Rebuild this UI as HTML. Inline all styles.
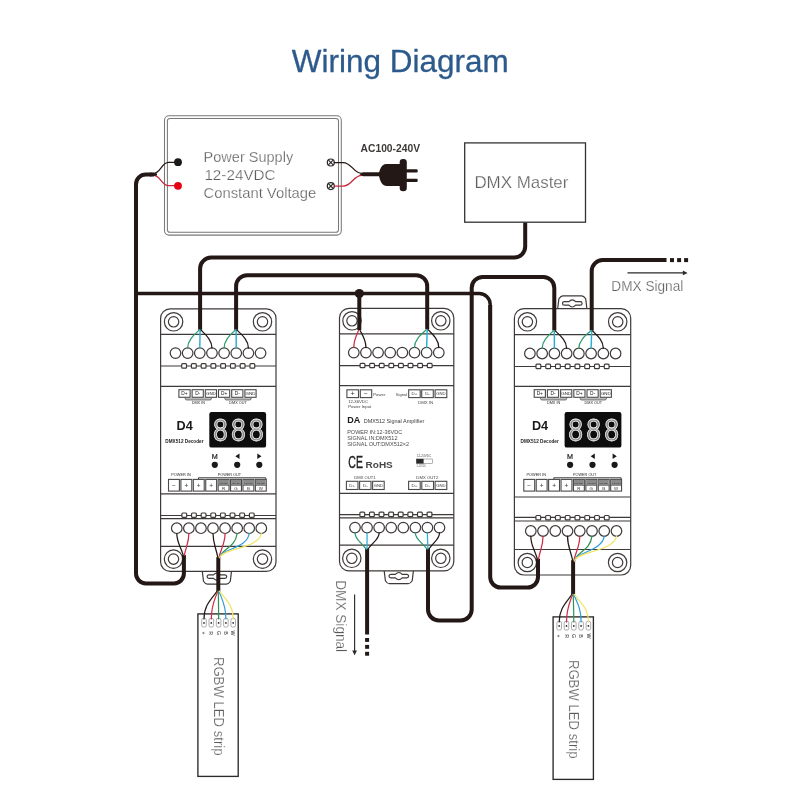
<!DOCTYPE html>
<html><head><meta charset="utf-8"><title>Wiring Diagram</title>
<style>
html,body{margin:0;padding:0;background:#fff;width:800px;height:800px;overflow:hidden;}
svg{display:block;font-family:"Liberation Sans", sans-serif;filter:blur(0.3px);}
.o{fill:none;stroke:#3e3a39;stroke-width:1.2;}
.ow{fill:#fff;stroke:#3e3a39;stroke-width:1.2;}
.lt{stroke:#fff;stroke-width:0.25;}
</style></head><body>
<svg width="800" height="800" viewBox="0 0 800 800">
<rect width="800" height="800" fill="#fff"/>
<text x="400.2" y="71.7" font-size="31.2" fill="#2c5a8c" font-weight="normal" text-anchor="middle" textLength="217" lengthAdjust="spacingAndGlyphs" stroke="#2c5a8c" stroke-width="0.3">Wiring Diagram</text>
<rect x="164.5" y="115.7" width="176.8" height="119.4" rx="4.5" fill="#fff" stroke="#7a7878" stroke-width="1.05"/>
<rect x="167.4" y="118.5" width="171.1" height="113.8" rx="2.6" fill="#fff" stroke="#7a7878" stroke-width="1.05"/>
<text x="203.6" y="161.7" font-size="14.4" fill="#5e5c5c" font-weight="normal" text-anchor="start" textLength="89.6" lengthAdjust="spacingAndGlyphs" class="lt">Power Supply</text>
<text x="204.4" y="180.0" font-size="14.4" fill="#5e5c5c" font-weight="normal" text-anchor="start" textLength="71.2" lengthAdjust="spacingAndGlyphs" class="lt">12-24VDC</text>
<text x="203.6" y="198.3" font-size="14.4" fill="#5e5c5c" font-weight="normal" text-anchor="start" textLength="112.6" lengthAdjust="spacingAndGlyphs" class="lt">Constant Voltage</text>
<rect x="464.7" y="142.9" width="120.8" height="79.3" fill="#fff" stroke="#333" stroke-width="1.3"/>
<text x="474.4" y="188.0" font-size="16.4" fill="#5e5c5c" font-weight="normal" text-anchor="start" textLength="94.0" lengthAdjust="spacingAndGlyphs" class="lt">DMX Master</text>
<path d="M202.3,571.4 L203.5,581.1999999999999 Q205.4,584.1999999999999 207.4,584.1999999999999 H226.4 Q228.4,584.1999999999999 230.3,581.1999999999999 L231.5,571.4" class="ow"/>
<path d="M208.9,574.8000000000001 H213.5 Q216.9,571.2 220.3,574.8000000000001 H224.9 A1.8,1.8 0 0 1 224.9,578.4 H220.3 Q216.9,582.0 213.5,578.4 H208.9 A1.8,1.8 0 0 1 208.9,574.8000000000001 Z" class="ow"/>
<rect x="160.6" y="308.8" width="115.4" height="262.59999999999997" rx="9.5" class="ow"/>
<path d="M160.6,334.4 H276.0" class="o"/>
<path d="M160.6,366.0 H276.0" class="o"/>
<path d="M160.6,386.3 H276.0" class="o"/>
<path d="M160.6,493.9 H276.0" class="o"/>
<path d="M160.6,515.5 H276.0" class="o"/>
<path d="M160.6,518.6 H276.0" class="o"/>
<path d="M160.6,546.3 H276.0" class="o"/>
<circle cx="173.6" cy="321.8" r="9.2" class="o"/><circle cx="173.6" cy="321.8" r="5.2" class="o"/>
<circle cx="262.5" cy="321.8" r="9.2" class="o"/><circle cx="262.5" cy="321.8" r="5.2" class="o"/>
<circle cx="173.5" cy="559.1" r="9.2" class="o"/><circle cx="173.5" cy="559.1" r="5.2" class="o"/>
<circle cx="262.5" cy="559.1" r="9.2" class="o"/><circle cx="262.5" cy="559.1" r="5.2" class="o"/>
<circle cx="175.5" cy="353.1" r="5.3" class="ow"/>
<circle cx="187.65" cy="353.1" r="5.3" class="ow"/>
<circle cx="199.8" cy="353.1" r="5.3" class="ow"/>
<circle cx="211.95" cy="353.1" r="5.3" class="ow"/>
<circle cx="224.1" cy="353.1" r="5.3" class="ow"/>
<circle cx="236.25" cy="353.1" r="5.3" class="ow"/>
<circle cx="248.4" cy="353.1" r="5.3" class="ow"/>
<circle cx="260.55" cy="353.1" r="5.3" class="ow"/>
<rect x="181.7" y="363.7" width="4.8" height="4.4" rx="0.9" class="ow"/>
<rect x="191.45" y="363.7" width="4.8" height="4.4" rx="0.9" class="ow"/>
<rect x="201.2" y="363.7" width="4.8" height="4.4" rx="0.9" class="ow"/>
<rect x="210.95" y="363.7" width="4.8" height="4.4" rx="0.9" class="ow"/>
<rect x="220.7" y="363.7" width="4.8" height="4.4" rx="0.9" class="ow"/>
<rect x="230.45" y="363.7" width="4.8" height="4.4" rx="0.9" class="ow"/>
<rect x="240.2" y="363.7" width="4.8" height="4.4" rx="0.9" class="ow"/>
<rect x="249.95" y="363.7" width="4.8" height="4.4" rx="0.9" class="ow"/>
<rect x="181.9" y="513.0" width="4.8" height="4.4" rx="0.9" class="ow"/>
<rect x="191.54" y="513.0" width="4.8" height="4.4" rx="0.9" class="ow"/>
<rect x="201.18" y="513.0" width="4.8" height="4.4" rx="0.9" class="ow"/>
<rect x="210.82000000000002" y="513.0" width="4.8" height="4.4" rx="0.9" class="ow"/>
<rect x="220.46" y="513.0" width="4.8" height="4.4" rx="0.9" class="ow"/>
<rect x="230.1" y="513.0" width="4.8" height="4.4" rx="0.9" class="ow"/>
<rect x="239.74" y="513.0" width="4.8" height="4.4" rx="0.9" class="ow"/>
<rect x="249.38000000000002" y="513.0" width="4.8" height="4.4" rx="0.9" class="ow"/>
<circle cx="176.8" cy="528.2" r="5.3" class="ow"/>
<circle cx="188.87" cy="528.2" r="5.3" class="ow"/>
<circle cx="200.94" cy="528.2" r="5.3" class="ow"/>
<circle cx="213.01000000000002" cy="528.2" r="5.3" class="ow"/>
<circle cx="225.08" cy="528.2" r="5.3" class="ow"/>
<circle cx="237.15" cy="528.2" r="5.3" class="ow"/>
<circle cx="249.22000000000003" cy="528.2" r="5.3" class="ow"/>
<circle cx="261.29" cy="528.2" r="5.3" class="ow"/>
<rect x="178.9" y="389.7" width="11.2" height="7.6" fill="#fff" stroke="#4a4a4a" stroke-width="1.1"/>
<text x="184.5" y="395.228" font-size="4.8" fill="#222" font-weight="normal" text-anchor="middle">D+</text>
<rect x="192.1" y="389.7" width="11.2" height="7.6" fill="#fff" stroke="#4a4a4a" stroke-width="1.1"/>
<text x="197.7" y="395.228" font-size="4.8" fill="#222" font-weight="normal" text-anchor="middle">D-</text>
<rect x="205.3" y="389.7" width="11.2" height="7.6" fill="#fff" stroke="#4a4a4a" stroke-width="1.1"/>
<text x="210.9" y="395.084" font-size="4.4" fill="#222" font-weight="normal" text-anchor="middle">GND</text>
<rect x="218.5" y="389.7" width="11.2" height="7.6" fill="#fff" stroke="#4a4a4a" stroke-width="1.1"/>
<text x="224.1" y="395.228" font-size="4.8" fill="#222" font-weight="normal" text-anchor="middle">D+</text>
<rect x="231.7" y="389.7" width="11.2" height="7.6" fill="#fff" stroke="#4a4a4a" stroke-width="1.1"/>
<text x="237.29999999999998" y="395.228" font-size="4.8" fill="#222" font-weight="normal" text-anchor="middle">D-</text>
<rect x="244.9" y="389.7" width="11.2" height="7.6" fill="#fff" stroke="#4a4a4a" stroke-width="1.1"/>
<text x="250.5" y="395.084" font-size="4.4" fill="#222" font-weight="normal" text-anchor="middle">GND</text>
<path d="M184.8,397.9 L186.0,400.0 H210.60000000000002 L211.8,397.9" fill="#bbb" stroke="#4a4a4a" stroke-width="0.7"/>
<text x="198.3" y="404.3" font-size="3.8" fill="#2a2a2a" font-weight="normal" text-anchor="middle">DMX IN</text>
<path d="M224.5,397.9 L225.7,400.0 H250.3 L251.5,397.9" fill="#bbb" stroke="#4a4a4a" stroke-width="0.7"/>
<text x="238.0" y="404.3" font-size="3.8" fill="#2a2a2a" font-weight="normal" text-anchor="middle">DMX OUT</text>
<text x="176.6" y="430.1" font-size="12.8" fill="#1a1a1a" font-weight="bold" text-anchor="start" textLength="16.2" lengthAdjust="spacingAndGlyphs">D4</text>
<text x="165.3" y="442.9" font-size="4.7" fill="#222" font-weight="bold" text-anchor="start" textLength="38.2" lengthAdjust="spacingAndGlyphs">DMX512 Decoder</text>
<rect x="209.3" y="412.1" width="56.8" height="35.5" rx="2.2" fill="#0d0d0d"/>
<text transform="translate(213.0,441.2) scale(0.83,1)" font-size="32" letter-spacing="3.9" fill="#8a8a8a" stroke="#fff" stroke-width="0.8">888</text>
<text x="214.8" y="458.8" font-size="7.2" fill="#1a1a1a" font-weight="normal" text-anchor="middle" stroke="#1a1a1a" stroke-width="0.2">M</text>
<path d="M239.5,453.6 V459.0 L235.3,456.3 Z" fill="#1a1a1a"/>
<path d="M257.3,453.6 V459.0 L261.5,456.3 Z" fill="#1a1a1a"/>
<circle cx="214.8" cy="464.8" r="3.1" fill="#1a1a1a"/>
<circle cx="237.2" cy="464.8" r="3.1" fill="#1a1a1a"/>
<circle cx="259.3" cy="464.8" r="3.1" fill="#1a1a1a"/>
<text x="181.0" y="475.8" font-size="3.8" fill="#2a2a2a" font-weight="normal" text-anchor="middle" textLength="19.5" lengthAdjust="spacingAndGlyphs">POWER IN</text>
<text x="229.4" y="475.8" font-size="3.8" fill="#2a2a2a" font-weight="normal" text-anchor="middle" textLength="23.4" lengthAdjust="spacingAndGlyphs">POWER OUT</text>
<path d="M198.5,479.2 V477.8 H265.8 V479.2" fill="none" stroke="#3a3a3a" stroke-width="1"/>
<rect x="168.5" y="479.4" width="10.9" height="11.7" fill="#fff" stroke="#4a4a4a" stroke-width="1.1"/>
<text x="173.95" y="487.59" font-size="6.5" fill="#333" font-weight="normal" text-anchor="middle">−</text>
<rect x="180.91" y="479.4" width="10.9" height="11.7" fill="#fff" stroke="#4a4a4a" stroke-width="1.1"/>
<text x="186.35999999999999" y="487.59" font-size="6.5" fill="#333" font-weight="normal" text-anchor="middle">+</text>
<rect x="193.32" y="479.4" width="10.9" height="11.7" fill="#fff" stroke="#4a4a4a" stroke-width="1.1"/>
<text x="198.76999999999998" y="487.59" font-size="6.5" fill="#333" font-weight="normal" text-anchor="middle">+</text>
<rect x="205.73000000000002" y="479.4" width="10.9" height="11.7" fill="#fff" stroke="#4a4a4a" stroke-width="1.1"/>
<text x="211.18" y="487.59" font-size="6.5" fill="#333" font-weight="normal" text-anchor="middle">+</text>
<rect x="218.14" y="479.4" width="10.9" height="11.7" fill="#fff" stroke="#4a4a4a" stroke-width="1.1"/>
<rect x="218.64" y="479.9" width="9.9" height="5.0" fill="#8a8a8a"/>
<path d="M218.14,485.3 H229.04" stroke="#4a4a4a" stroke-width="0.8"/>
<text x="223.58999999999997" y="484.0" font-size="2.3" fill="#222" font-weight="normal" text-anchor="middle">4.5A/CH</text>
<text x="223.58999999999997" y="490.3" font-size="4.4" fill="#333" font-weight="normal" text-anchor="middle">R</text>
<rect x="230.55" y="479.4" width="10.9" height="11.7" fill="#fff" stroke="#4a4a4a" stroke-width="1.1"/>
<rect x="231.05" y="479.9" width="9.9" height="5.0" fill="#8a8a8a"/>
<path d="M230.55,485.3 H241.45000000000002" stroke="#4a4a4a" stroke-width="0.8"/>
<text x="236.0" y="484.0" font-size="2.3" fill="#222" font-weight="normal" text-anchor="middle">4.5A/CH</text>
<text x="236.0" y="490.3" font-size="4.4" fill="#333" font-weight="normal" text-anchor="middle">G</text>
<rect x="242.96" y="479.4" width="10.9" height="11.7" fill="#fff" stroke="#4a4a4a" stroke-width="1.1"/>
<rect x="243.46" y="479.9" width="9.9" height="5.0" fill="#8a8a8a"/>
<path d="M242.96,485.3 H253.86" stroke="#4a4a4a" stroke-width="0.8"/>
<text x="248.41" y="484.0" font-size="2.3" fill="#222" font-weight="normal" text-anchor="middle">4.5A/CH</text>
<text x="248.41" y="490.3" font-size="4.4" fill="#333" font-weight="normal" text-anchor="middle">B</text>
<rect x="255.37" y="479.4" width="10.9" height="11.7" fill="#fff" stroke="#4a4a4a" stroke-width="1.1"/>
<rect x="255.87" y="479.9" width="9.9" height="5.0" fill="#8a8a8a"/>
<path d="M255.37,485.3 H266.27" stroke="#4a4a4a" stroke-width="0.8"/>
<text x="260.82" y="484.0" font-size="2.3" fill="#222" font-weight="normal" text-anchor="middle">4.5A/CH</text>
<text x="260.82" y="490.3" font-size="4.4" fill="#333" font-weight="normal" text-anchor="middle">W</text>
<path d="M557.6999999999999,308.6 L558.9,298.8 Q560.8,295.8 562.8,295.8 H581.8 Q583.8,295.8 585.6999999999999,298.8 L586.9,308.6" class="ow"/>
<path d="M564.3,301.6 H568.9 Q572.3,298.00000000000006 575.6999999999999,301.6 H580.3 A1.8,1.8 0 0 1 580.3,305.20000000000005 H575.6999999999999 Q572.3,308.8 568.9,305.20000000000005 H564.3 A1.8,1.8 0 0 1 564.3,301.6 Z" class="ow"/>
<rect x="514.4" y="308.6" width="116.30000000000007" height="266.4" rx="9.5" class="ow"/>
<path d="M514.4,334.7 H630.7" class="o"/>
<path d="M514.4,366.5 H630.7" class="o"/>
<path d="M514.4,386.3 H630.7" class="o"/>
<path d="M514.4,497.0 H630.7" class="o"/>
<path d="M514.4,517.4 H630.7" class="o"/>
<path d="M514.4,521.0 H630.7" class="o"/>
<path d="M514.4,549.5 H630.7" class="o"/>
<circle cx="527.4" cy="321.8" r="9.2" class="o"/><circle cx="527.4" cy="321.8" r="5.2" class="o"/>
<circle cx="617.7" cy="321.8" r="9.2" class="o"/><circle cx="617.7" cy="321.8" r="5.2" class="o"/>
<circle cx="527.3" cy="562.5" r="9.2" class="o"/><circle cx="527.3" cy="562.5" r="5.2" class="o"/>
<circle cx="617.6" cy="562.5" r="9.2" class="o"/><circle cx="617.6" cy="562.5" r="5.2" class="o"/>
<circle cx="529.9" cy="353.5" r="5.3" class="ow"/>
<circle cx="542.14" cy="353.5" r="5.3" class="ow"/>
<circle cx="554.38" cy="353.5" r="5.3" class="ow"/>
<circle cx="566.62" cy="353.5" r="5.3" class="ow"/>
<circle cx="578.86" cy="353.5" r="5.3" class="ow"/>
<circle cx="591.1" cy="353.5" r="5.3" class="ow"/>
<circle cx="603.3399999999999" cy="353.5" r="5.3" class="ow"/>
<circle cx="615.5799999999999" cy="353.5" r="5.3" class="ow"/>
<rect x="536.0" y="364.2" width="4.8" height="4.4" rx="0.9" class="ow"/>
<rect x="545.75" y="364.2" width="4.8" height="4.4" rx="0.9" class="ow"/>
<rect x="555.5" y="364.2" width="4.8" height="4.4" rx="0.9" class="ow"/>
<rect x="565.25" y="364.2" width="4.8" height="4.4" rx="0.9" class="ow"/>
<rect x="575.0" y="364.2" width="4.8" height="4.4" rx="0.9" class="ow"/>
<rect x="584.75" y="364.2" width="4.8" height="4.4" rx="0.9" class="ow"/>
<rect x="594.5" y="364.2" width="4.8" height="4.4" rx="0.9" class="ow"/>
<rect x="604.25" y="364.2" width="4.8" height="4.4" rx="0.9" class="ow"/>
<rect x="535.9" y="515.5" width="4.8" height="4.4" rx="0.9" class="ow"/>
<rect x="545.68" y="515.5" width="4.8" height="4.4" rx="0.9" class="ow"/>
<rect x="555.4599999999999" y="515.5" width="4.8" height="4.4" rx="0.9" class="ow"/>
<rect x="565.24" y="515.5" width="4.8" height="4.4" rx="0.9" class="ow"/>
<rect x="575.02" y="515.5" width="4.8" height="4.4" rx="0.9" class="ow"/>
<rect x="584.8" y="515.5" width="4.8" height="4.4" rx="0.9" class="ow"/>
<rect x="594.5799999999999" y="515.5" width="4.8" height="4.4" rx="0.9" class="ow"/>
<rect x="604.36" y="515.5" width="4.8" height="4.4" rx="0.9" class="ow"/>
<circle cx="530.8" cy="531.0" r="5.3" class="ow"/>
<circle cx="543.04" cy="531.0" r="5.3" class="ow"/>
<circle cx="555.28" cy="531.0" r="5.3" class="ow"/>
<circle cx="567.52" cy="531.0" r="5.3" class="ow"/>
<circle cx="579.76" cy="531.0" r="5.3" class="ow"/>
<circle cx="592.0" cy="531.0" r="5.3" class="ow"/>
<circle cx="604.24" cy="531.0" r="5.3" class="ow"/>
<circle cx="616.48" cy="531.0" r="5.3" class="ow"/>
<rect x="534.2" y="389.7" width="11.2" height="7.6" fill="#fff" stroke="#4a4a4a" stroke-width="1.1"/>
<text x="539.8000000000001" y="395.228" font-size="4.8" fill="#222" font-weight="normal" text-anchor="middle">D+</text>
<rect x="547.4000000000001" y="389.7" width="11.2" height="7.6" fill="#fff" stroke="#4a4a4a" stroke-width="1.1"/>
<text x="553.0000000000001" y="395.228" font-size="4.8" fill="#222" font-weight="normal" text-anchor="middle">D-</text>
<rect x="560.6" y="389.7" width="11.2" height="7.6" fill="#fff" stroke="#4a4a4a" stroke-width="1.1"/>
<text x="566.2" y="395.084" font-size="4.4" fill="#222" font-weight="normal" text-anchor="middle">GND</text>
<rect x="573.8000000000001" y="389.7" width="11.2" height="7.6" fill="#fff" stroke="#4a4a4a" stroke-width="1.1"/>
<text x="579.4000000000001" y="395.228" font-size="4.8" fill="#222" font-weight="normal" text-anchor="middle">D+</text>
<rect x="587.0" y="389.7" width="11.2" height="7.6" fill="#fff" stroke="#4a4a4a" stroke-width="1.1"/>
<text x="592.6" y="395.228" font-size="4.8" fill="#222" font-weight="normal" text-anchor="middle">D-</text>
<rect x="600.2" y="389.7" width="11.2" height="7.6" fill="#fff" stroke="#4a4a4a" stroke-width="1.1"/>
<text x="605.8000000000001" y="395.084" font-size="4.4" fill="#222" font-weight="normal" text-anchor="middle">GND</text>
<path d="M540.1,397.9 L541.3000000000001,400.0 H565.9 L567.1,397.9" fill="#bbb" stroke="#4a4a4a" stroke-width="0.7"/>
<text x="553.6" y="404.3" font-size="3.8" fill="#2a2a2a" font-weight="normal" text-anchor="middle">DMX IN</text>
<path d="M579.8,397.9 L581.0,400.0 H605.5999999999999 L606.8,397.9" fill="#bbb" stroke="#4a4a4a" stroke-width="0.7"/>
<text x="593.3" y="404.3" font-size="3.8" fill="#2a2a2a" font-weight="normal" text-anchor="middle">DMX OUT</text>
<text x="531.9" y="430.1" font-size="12.8" fill="#1a1a1a" font-weight="bold" text-anchor="start" textLength="16.2" lengthAdjust="spacingAndGlyphs">D4</text>
<text x="520.6" y="442.9" font-size="4.7" fill="#222" font-weight="bold" text-anchor="start" textLength="38.2" lengthAdjust="spacingAndGlyphs">DMX512 Decoder</text>
<rect x="564.6" y="412.1" width="56.8" height="35.5" rx="2.2" fill="#0d0d0d"/>
<text transform="translate(568.3,441.2) scale(0.83,1)" font-size="32" letter-spacing="3.9" fill="#8a8a8a" stroke="#fff" stroke-width="0.8">888</text>
<text x="570.1" y="458.8" font-size="7.2" fill="#1a1a1a" font-weight="normal" text-anchor="middle" stroke="#1a1a1a" stroke-width="0.2">M</text>
<path d="M594.8,453.6 V459.0 L590.6,456.3 Z" fill="#1a1a1a"/>
<path d="M612.6,453.6 V459.0 L616.8,456.3 Z" fill="#1a1a1a"/>
<circle cx="570.1" cy="464.8" r="3.1" fill="#1a1a1a"/>
<circle cx="592.5" cy="464.8" r="3.1" fill="#1a1a1a"/>
<circle cx="614.6" cy="464.8" r="3.1" fill="#1a1a1a"/>
<text x="536.3" y="475.8" font-size="3.8" fill="#2a2a2a" font-weight="normal" text-anchor="middle" textLength="19.5" lengthAdjust="spacingAndGlyphs">POWER IN</text>
<text x="584.7" y="475.8" font-size="3.8" fill="#2a2a2a" font-weight="normal" text-anchor="middle" textLength="23.4" lengthAdjust="spacingAndGlyphs">POWER OUT</text>
<path d="M553.8,479.2 V477.8 H621.1 V479.2" fill="none" stroke="#3a3a3a" stroke-width="1"/>
<rect x="523.8" y="479.4" width="10.9" height="11.7" fill="#fff" stroke="#4a4a4a" stroke-width="1.1"/>
<text x="529.25" y="487.59" font-size="6.5" fill="#333" font-weight="normal" text-anchor="middle">−</text>
<rect x="536.2099999999999" y="479.4" width="10.9" height="11.7" fill="#fff" stroke="#4a4a4a" stroke-width="1.1"/>
<text x="541.66" y="487.59" font-size="6.5" fill="#333" font-weight="normal" text-anchor="middle">+</text>
<rect x="548.62" y="479.4" width="10.9" height="11.7" fill="#fff" stroke="#4a4a4a" stroke-width="1.1"/>
<text x="554.07" y="487.59" font-size="6.5" fill="#333" font-weight="normal" text-anchor="middle">+</text>
<rect x="561.03" y="479.4" width="10.9" height="11.7" fill="#fff" stroke="#4a4a4a" stroke-width="1.1"/>
<text x="566.48" y="487.59" font-size="6.5" fill="#333" font-weight="normal" text-anchor="middle">+</text>
<rect x="573.4399999999999" y="479.4" width="10.9" height="11.7" fill="#fff" stroke="#4a4a4a" stroke-width="1.1"/>
<rect x="573.9399999999999" y="479.9" width="9.9" height="5.0" fill="#8a8a8a"/>
<path d="M573.4399999999999,485.3 H584.3399999999999" stroke="#4a4a4a" stroke-width="0.8"/>
<text x="578.89" y="484.0" font-size="2.3" fill="#222" font-weight="normal" text-anchor="middle">4.5A/CH</text>
<text x="578.89" y="490.3" font-size="4.4" fill="#333" font-weight="normal" text-anchor="middle">R</text>
<rect x="585.8499999999999" y="479.4" width="10.9" height="11.7" fill="#fff" stroke="#4a4a4a" stroke-width="1.1"/>
<rect x="586.3499999999999" y="479.9" width="9.9" height="5.0" fill="#8a8a8a"/>
<path d="M585.8499999999999,485.3 H596.7499999999999" stroke="#4a4a4a" stroke-width="0.8"/>
<text x="591.3" y="484.0" font-size="2.3" fill="#222" font-weight="normal" text-anchor="middle">4.5A/CH</text>
<text x="591.3" y="490.3" font-size="4.4" fill="#333" font-weight="normal" text-anchor="middle">G</text>
<rect x="598.26" y="479.4" width="10.9" height="11.7" fill="#fff" stroke="#4a4a4a" stroke-width="1.1"/>
<rect x="598.76" y="479.9" width="9.9" height="5.0" fill="#8a8a8a"/>
<path d="M598.26,485.3 H609.16" stroke="#4a4a4a" stroke-width="0.8"/>
<text x="603.71" y="484.0" font-size="2.3" fill="#222" font-weight="normal" text-anchor="middle">4.5A/CH</text>
<text x="603.71" y="490.3" font-size="4.4" fill="#333" font-weight="normal" text-anchor="middle">B</text>
<rect x="610.67" y="479.4" width="10.9" height="11.7" fill="#fff" stroke="#4a4a4a" stroke-width="1.1"/>
<rect x="611.17" y="479.9" width="9.9" height="5.0" fill="#8a8a8a"/>
<path d="M610.67,485.3 H621.5699999999999" stroke="#4a4a4a" stroke-width="0.8"/>
<text x="616.12" y="484.0" font-size="2.3" fill="#222" font-weight="normal" text-anchor="middle">4.5A/CH</text>
<text x="616.12" y="490.3" font-size="4.4" fill="#333" font-weight="normal" text-anchor="middle">W</text>
<path d="M384.2,570.9 L385.4,580.6999999999999 Q387.3,583.6999999999999 389.3,583.6999999999999 H408.3 Q410.3,583.6999999999999 412.20000000000005,580.6999999999999 L413.40000000000003,570.9" class="ow"/>
<path d="M390.8,574.3000000000001 H395.40000000000003 Q398.8,570.7 402.2,574.3000000000001 H406.8 A1.8,1.8 0 0 1 406.8,577.9 H402.2 Q398.8,581.5 395.40000000000003,577.9 H390.8 A1.8,1.8 0 0 1 390.8,574.3000000000001 Z" class="ow"/>
<rect x="339.5" y="308.3" width="114.30000000000001" height="262.59999999999997" rx="9.5" class="ow"/>
<path d="M339.5,333.9 H453.8" class="o"/>
<path d="M339.5,365.6 H453.8" class="o"/>
<path d="M339.5,385.6 H453.8" class="o"/>
<path d="M339.5,493.3 H453.8" class="o"/>
<path d="M339.5,514.6 H453.8" class="o"/>
<path d="M339.5,517.9 H453.8" class="o"/>
<path d="M339.5,545.2 H453.8" class="o"/>
<circle cx="352.0" cy="320.8" r="9.2" class="o"/><circle cx="352.0" cy="320.8" r="5.2" class="o"/>
<circle cx="440.8" cy="320.8" r="9.2" class="o"/><circle cx="440.8" cy="320.8" r="5.2" class="o"/>
<circle cx="351.8" cy="558.3" r="9.2" class="o"/><circle cx="351.8" cy="558.3" r="5.2" class="o"/>
<circle cx="440.8" cy="558.3" r="9.2" class="o"/><circle cx="440.8" cy="558.3" r="5.2" class="o"/>
<circle cx="353.8" cy="352.6" r="5.3" class="ow"/>
<circle cx="365.94" cy="352.6" r="5.3" class="ow"/>
<circle cx="378.08000000000004" cy="352.6" r="5.3" class="ow"/>
<circle cx="390.22" cy="352.6" r="5.3" class="ow"/>
<circle cx="402.36" cy="352.6" r="5.3" class="ow"/>
<circle cx="414.5" cy="352.6" r="5.3" class="ow"/>
<circle cx="426.64" cy="352.6" r="5.3" class="ow"/>
<circle cx="438.78000000000003" cy="352.6" r="5.3" class="ow"/>
<rect x="360.1" y="363.3" width="4.8" height="4.4" rx="0.9" class="ow"/>
<rect x="369.70000000000005" y="363.3" width="4.8" height="4.4" rx="0.9" class="ow"/>
<rect x="379.3" y="363.3" width="4.8" height="4.4" rx="0.9" class="ow"/>
<rect x="388.90000000000003" y="363.3" width="4.8" height="4.4" rx="0.9" class="ow"/>
<rect x="398.5" y="363.3" width="4.8" height="4.4" rx="0.9" class="ow"/>
<rect x="408.1" y="363.3" width="4.8" height="4.4" rx="0.9" class="ow"/>
<rect x="417.70000000000005" y="363.3" width="4.8" height="4.4" rx="0.9" class="ow"/>
<rect x="427.3" y="363.3" width="4.8" height="4.4" rx="0.9" class="ow"/>
<rect x="359.90000000000003" y="512.2" width="4.8" height="4.4" rx="0.9" class="ow"/>
<rect x="369.50000000000006" y="512.2" width="4.8" height="4.4" rx="0.9" class="ow"/>
<rect x="379.1" y="512.2" width="4.8" height="4.4" rx="0.9" class="ow"/>
<rect x="388.70000000000005" y="512.2" width="4.8" height="4.4" rx="0.9" class="ow"/>
<rect x="398.3" y="512.2" width="4.8" height="4.4" rx="0.9" class="ow"/>
<rect x="407.90000000000003" y="512.2" width="4.8" height="4.4" rx="0.9" class="ow"/>
<rect x="417.5" y="512.2" width="4.8" height="4.4" rx="0.9" class="ow"/>
<rect x="427.1" y="512.2" width="4.8" height="4.4" rx="0.9" class="ow"/>
<circle cx="355.0" cy="527.6" r="5.3" class="ow"/>
<circle cx="367.07" cy="527.6" r="5.3" class="ow"/>
<circle cx="379.14" cy="527.6" r="5.3" class="ow"/>
<circle cx="391.21" cy="527.6" r="5.3" class="ow"/>
<circle cx="403.28" cy="527.6" r="5.3" class="ow"/>
<circle cx="415.35" cy="527.6" r="5.3" class="ow"/>
<circle cx="427.42" cy="527.6" r="5.3" class="ow"/>
<circle cx="439.49" cy="527.6" r="5.3" class="ow"/>
<rect x="346.9" y="389.8" width="11.6" height="7.8" fill="#fff" stroke="#4a4a4a" stroke-width="1.1"/>
<text x="352.7" y="396.03999999999996" font-size="6.5" fill="#222" font-weight="normal" text-anchor="middle">+</text>
<rect x="360.3" y="389.8" width="11.4" height="7.8" fill="#fff" stroke="#4a4a4a" stroke-width="1.1"/>
<text x="366.0" y="396.03999999999996" font-size="6.5" fill="#222" font-weight="normal" text-anchor="middle">−</text>
<text x="373.3" y="395.5" font-size="4.4" fill="#444" font-weight="normal" text-anchor="start" textLength="12.0" lengthAdjust="spacingAndGlyphs">Power</text>
<text x="395.8" y="395.5" font-size="4.4" fill="#444" font-weight="normal" text-anchor="start" textLength="11.5" lengthAdjust="spacingAndGlyphs">Signal</text>
<rect x="408.7" y="389.8" width="11.5" height="7.8" fill="#fff" stroke="#4a4a4a" stroke-width="1.1"/>
<text x="414.45" y="395.284" font-size="4.4" fill="#3a3a3a" font-weight="normal" text-anchor="middle">D+</text>
<rect x="421.7" y="389.8" width="11.6" height="7.8" fill="#fff" stroke="#4a4a4a" stroke-width="1.1"/>
<text x="427.5" y="395.284" font-size="4.4" fill="#3a3a3a" font-weight="normal" text-anchor="middle">D-</text>
<rect x="435.1" y="389.8" width="11.7" height="7.8" fill="#fff" stroke="#4a4a4a" stroke-width="1.1"/>
<text x="440.95000000000005" y="395.212" font-size="4.2" fill="#3a3a3a" font-weight="normal" text-anchor="middle">GND</text>
<text x="348.2" y="403.4" font-size="3.9" fill="#444" font-weight="normal" text-anchor="start" textLength="19.8" lengthAdjust="spacingAndGlyphs">12-36VDC</text>
<text x="348.2" y="407.9" font-size="3.9" fill="#444" font-weight="normal" text-anchor="start" textLength="23.1" lengthAdjust="spacingAndGlyphs">Power Input</text>
<text x="425.6" y="403.8" font-size="3.9" fill="#444" font-weight="normal" text-anchor="middle" textLength="15.2" lengthAdjust="spacingAndGlyphs">DMX IN</text>
<text x="347.2" y="422.7" font-size="8.6" fill="#1a1a1a" font-weight="bold" text-anchor="start" textLength="13.0" lengthAdjust="spacingAndGlyphs">DA</text>
<text x="363.8" y="422.8" font-size="5.3" fill="#3a3a3a" font-weight="normal" text-anchor="start" textLength="60.5" lengthAdjust="spacingAndGlyphs">DMX512 Signal Amplifier</text>
<text x="347.2" y="433.8" font-size="5.2" fill="#4a4a4a" font-weight="normal" text-anchor="start" textLength="55.0" lengthAdjust="spacingAndGlyphs">POWER IN:12-36VDC</text>
<text x="347.2" y="440.2" font-size="5.2" fill="#4a4a4a" font-weight="normal" text-anchor="start" textLength="50.3" lengthAdjust="spacingAndGlyphs">SIGNAL IN:DMX512</text>
<text x="347.2" y="446.3" font-size="5.2" fill="#4a4a4a" font-weight="normal" text-anchor="start" textLength="62.0" lengthAdjust="spacingAndGlyphs">SIGNAL OUT:DMX512×2</text>
<text x="348.3" y="467.5" font-size="16.6" fill="#222" font-weight="normal" text-anchor="start" textLength="14.6" lengthAdjust="spacingAndGlyphs" stroke="#222" stroke-width="0.4">CE</text>
<text x="365.6" y="467.5" font-size="9.9" fill="#454545" font-weight="bold" text-anchor="start" textLength="27.2" lengthAdjust="spacingAndGlyphs">RoHS</text>
<text x="416.8" y="457.4" font-size="2.6" fill="#555" font-weight="normal" text-anchor="start" textLength="14.6" lengthAdjust="spacingAndGlyphs">12-24VDC</text>
<rect x="416.5" y="459.0" width="15.8" height="4.4" fill="#fff" stroke="#666" stroke-width="0.5"/>
<rect x="416.3" y="458.9" width="7.3" height="4.6" fill="#2a2a2a"/>
<text x="416.8" y="466.9" font-size="2.6" fill="#555" font-weight="normal" text-anchor="start" textLength="9.2" lengthAdjust="spacingAndGlyphs">5-12VDC</text>
<text x="364.9" y="478.8" font-size="3.9" fill="#444" font-weight="normal" text-anchor="middle" textLength="21.3" lengthAdjust="spacingAndGlyphs">DMX OUT1</text>
<text x="427.3" y="478.8" font-size="3.9" fill="#444" font-weight="normal" text-anchor="middle" textLength="21.9" lengthAdjust="spacingAndGlyphs">DMX OUT2</text>
<rect x="346.4" y="481.3" width="11.6" height="8.2" fill="#fff" stroke="#4a4a4a" stroke-width="1.1"/>
<text x="352.2" y="486.98400000000004" font-size="4.4" fill="#3a3a3a" font-weight="normal" text-anchor="middle">D+</text>
<rect x="359.6" y="481.3" width="11.4" height="8.2" fill="#fff" stroke="#4a4a4a" stroke-width="1.1"/>
<text x="365.3" y="486.98400000000004" font-size="4.4" fill="#3a3a3a" font-weight="normal" text-anchor="middle">D-</text>
<rect x="372.6" y="481.3" width="11.6" height="8.2" fill="#fff" stroke="#4a4a4a" stroke-width="1.1"/>
<text x="378.40000000000003" y="486.91200000000003" font-size="4.2" fill="#3a3a3a" font-weight="normal" text-anchor="middle">GND</text>
<rect x="408.6" y="481.3" width="11.6" height="8.2" fill="#fff" stroke="#4a4a4a" stroke-width="1.1"/>
<text x="414.40000000000003" y="486.98400000000004" font-size="4.4" fill="#3a3a3a" font-weight="normal" text-anchor="middle">D+</text>
<rect x="421.8" y="481.3" width="11.7" height="8.2" fill="#fff" stroke="#4a4a4a" stroke-width="1.1"/>
<text x="427.65000000000003" y="486.98400000000004" font-size="4.4" fill="#3a3a3a" font-weight="normal" text-anchor="middle">D-</text>
<rect x="435.1" y="481.3" width="11.7" height="8.2" fill="#fff" stroke="#4a4a4a" stroke-width="1.1"/>
<text x="440.95000000000005" y="486.91200000000003" font-size="4.2" fill="#3a3a3a" font-weight="normal" text-anchor="middle">GND</text>
<rect x="197.9" y="613.9" width="40.3" height="162.5" fill="#fff" stroke="#2a2a2a" stroke-width="1.35"/>
<rect x="201.7" y="618.3" width="4.6" height="8.8" rx="1.8" fill="#fff" stroke="#8a8a8a" stroke-width="0.7"/>
<circle cx="204.0" cy="622.9" r="0.85" fill="#222"/>
<text transform="translate(202.1,633.1) rotate(90)" font-size="5.3" fill="#333" text-anchor="middle">+</text>
<rect x="209.0" y="618.3" width="4.6" height="8.8" rx="1.8" fill="#fff" stroke="#8a8a8a" stroke-width="0.7"/>
<circle cx="211.3" cy="622.9" r="0.85" fill="#222"/>
<text transform="translate(209.4,633.1) rotate(90)" font-size="5.3" fill="#333" text-anchor="middle">R</text>
<rect x="216.29999999999998" y="618.3" width="4.6" height="8.8" rx="1.8" fill="#fff" stroke="#8a8a8a" stroke-width="0.7"/>
<circle cx="218.6" cy="622.9" r="0.85" fill="#222"/>
<text transform="translate(216.7,633.1) rotate(90)" font-size="5.3" fill="#333" text-anchor="middle">G</text>
<rect x="223.6" y="618.3" width="4.6" height="8.8" rx="1.8" fill="#fff" stroke="#8a8a8a" stroke-width="0.7"/>
<circle cx="225.9" cy="622.9" r="0.85" fill="#222"/>
<text transform="translate(224.0,633.1) rotate(90)" font-size="5.3" fill="#333" text-anchor="middle">B</text>
<rect x="230.89999999999998" y="618.3" width="4.6" height="8.8" rx="1.8" fill="#fff" stroke="#8a8a8a" stroke-width="0.7"/>
<circle cx="233.2" cy="622.9" r="0.85" fill="#222"/>
<text transform="translate(231.29999999999998,633.1) rotate(90)" font-size="5.3" fill="#333" text-anchor="middle">W</text>
<text transform="translate(213.8,656.9) rotate(90)" class="lt" font-size="15.3" fill="#5a5858" textLength="98.6" lengthAdjust="spacingAndGlyphs">RGBW LED strip</text>
<rect x="553.1" y="616.9" width="40.3" height="162.5" fill="#fff" stroke="#2a2a2a" stroke-width="1.35"/>
<rect x="556.9000000000001" y="621.3" width="4.6" height="8.8" rx="1.8" fill="#fff" stroke="#8a8a8a" stroke-width="0.7"/>
<circle cx="559.2" cy="625.9" r="0.85" fill="#222"/>
<text transform="translate(557.3000000000001,636.1) rotate(90)" font-size="5.3" fill="#333" text-anchor="middle">+</text>
<rect x="564.2" y="621.3" width="4.6" height="8.8" rx="1.8" fill="#fff" stroke="#8a8a8a" stroke-width="0.7"/>
<circle cx="566.5" cy="625.9" r="0.85" fill="#222"/>
<text transform="translate(564.6,636.1) rotate(90)" font-size="5.3" fill="#333" text-anchor="middle">R</text>
<rect x="571.5000000000001" y="621.3" width="4.6" height="8.8" rx="1.8" fill="#fff" stroke="#8a8a8a" stroke-width="0.7"/>
<circle cx="573.8000000000001" cy="625.9" r="0.85" fill="#222"/>
<text transform="translate(571.9000000000001,636.1) rotate(90)" font-size="5.3" fill="#333" text-anchor="middle">G</text>
<rect x="578.8000000000001" y="621.3" width="4.6" height="8.8" rx="1.8" fill="#fff" stroke="#8a8a8a" stroke-width="0.7"/>
<circle cx="581.1" cy="625.9" r="0.85" fill="#222"/>
<text transform="translate(579.2,636.1) rotate(90)" font-size="5.3" fill="#333" text-anchor="middle">B</text>
<rect x="586.1000000000001" y="621.3" width="4.6" height="8.8" rx="1.8" fill="#fff" stroke="#8a8a8a" stroke-width="0.7"/>
<circle cx="588.4000000000001" cy="625.9" r="0.85" fill="#222"/>
<text transform="translate(586.5000000000001,636.1) rotate(90)" font-size="5.3" fill="#333" text-anchor="middle">W</text>
<text transform="translate(569.0,659.9) rotate(90)" class="lt" font-size="15.3" fill="#5a5858" textLength="98.6" lengthAdjust="spacingAndGlyphs">RGBW LED strip</text>
<path d="M153,173.6 C161,173.6 161,162.6 168.5,162.4 H178" fill="none" stroke="#231815" stroke-width="1.2" stroke-linecap="round"/>
<path d="M153,175.4 C161,175.4 161,185.4 168.5,185.7 H178" fill="none" stroke="#c8283c" stroke-width="1.2" stroke-linecap="round"/>
<path d="M150,172.5 L157,173.6 V175.4 L150,176.5 Z" fill="#231815"/>
<circle cx="178.0" cy="162.2" r="3.9" fill="#1a1a1a"/>
<circle cx="178.0" cy="185.8" r="3.9" fill="#e60012"/>
<circle cx="330.8" cy="162.5" r="3.5" fill="#fff" stroke="#2a2625" stroke-width="1.2"/>
<path d="M328.40000000000003,160.1 L333.2,164.9 M333.2,160.1 L328.40000000000003,164.9" stroke="#2a2625" stroke-width="1.1"/>
<circle cx="330.8" cy="186.1" r="3.5" fill="#fff" stroke="#2a2625" stroke-width="1.2"/>
<path d="M328.40000000000003,183.7 L333.2,188.5 M333.2,183.7 L328.40000000000003,188.5" stroke="#2a2625" stroke-width="1.1"/>
<path d="M334.2,162.5 H343 C352,162.5 353,173.4 362,173.4" fill="none" stroke="#231815" stroke-width="1.25" stroke-linecap="round"/>
<path d="M334.2,186.1 H343 C352,186.1 353,175.4 362,175.4" fill="none" stroke="#c8283c" stroke-width="1.25" stroke-linecap="round"/>
<path d="M359.5,174.3 L363,172.3 H382 V176.3 H363 Z" fill="#231815"/>
<path d="M378.6,174.3 C379.6,171 380.5,163.9 386.5,163.9 H400.5 V186.0 H386.5 C380.5,186.0 379.6,177.6 378.6,174.3 Z" fill="#231815"/>
<rect x="399.7" y="159.0" width="7.1" height="32.3" rx="3.3" fill="#231815"/>
<rect x="406" y="169.3" width="11.7" height="3.2" rx="1.2" fill="#231815"/>
<rect x="406" y="178.7" width="11.7" height="3.2" rx="1.2" fill="#231815"/>
<text x="360.6" y="151.8" font-size="11.6" fill="#3e3a39" font-weight="bold" text-anchor="start" textLength="59.4" lengthAdjust="spacingAndGlyphs">AC100-240V</text>
<path d="M154.0,174.5 L145.80,174.50 A9.80,9.80 0 0 0 136.00,184.30 L136.00,573.60 A9.80,9.80 0 0 0 145.80,583.40 L174.10,583.40 A9.80,9.80 0 0 0 183.90,573.60 L183.9,555" fill="none" stroke="#231815" stroke-width="4" stroke-linecap="butt" stroke-linejoin="round"/>
<path d="M135,293.5 L479.20,293.50 A11.00,11.00 0 0 1 490.20,304.50 L490.2,320" fill="none" stroke="#231815" stroke-width="3.4" stroke-linecap="butt" stroke-linejoin="round"/>
<path d="M490.2,305 L490.20,577.10 A10.50,10.50 0 0 0 500.70,587.60 L527.50,587.60 A10.50,10.50 0 0 0 538.00,577.10 L538,558.8" fill="none" stroke="#231815" stroke-width="4" stroke-linecap="butt" stroke-linejoin="round"/>
<circle cx="359.3" cy="293.5" r="4.6" fill="#231815"/>
<path d="M359.3,293.4 V330" fill="none" stroke="#231815" stroke-width="4" stroke-linecap="butt" stroke-linejoin="round"/>
<path d="M525.2,222.8 L525.20,246.60 A11.00,11.00 0 0 1 514.20,257.60 L211.10,257.60 A11.00,11.00 0 0 0 200.10,268.60 L200.1,329.8" fill="none" stroke="#231815" stroke-width="4" stroke-linecap="butt" stroke-linejoin="round"/>
<path d="M236.1,329.8 L236.10,286.20 A11.00,11.00 0 0 1 247.10,275.20 L416.20,275.20 A11.00,11.00 0 0 1 427.20,286.20 L427.2,329.3" fill="none" stroke="#231815" stroke-width="4" stroke-linecap="butt" stroke-linejoin="round"/>
<path d="M428.0,548.6 L428.00,609.50 A11.00,11.00 0 0 0 439.00,620.50 L460.70,620.50 A11.00,11.00 0 0 0 471.70,609.50 L471.70,287.90 A11.00,11.00 0 0 1 482.70,276.90 L543.30,276.90 A11.00,11.00 0 0 1 554.30,287.90 L554.3,330.4" fill="none" stroke="#231815" stroke-width="4" stroke-linecap="butt" stroke-linejoin="round"/>
<path d="M591.7,330.4 L591.70,271.10 A11.00,11.00 0 0 1 602.70,260.10 L666.5,260.1" fill="none" stroke="#231815" stroke-width="4" stroke-linecap="butt" stroke-linejoin="round"/>
<rect x="670" y="258.1" width="4" height="4" fill="#231815"/>
<rect x="677.1" y="258.1" width="4" height="4" fill="#231815"/>
<rect x="684.1" y="258.1" width="4" height="4" fill="#231815"/>
<path d="M367.1,548.6 V634.5" fill="none" stroke="#231815" stroke-width="4" stroke-linecap="butt" stroke-linejoin="round"/>
<rect x="365.1" y="638.0" width="4" height="3.9" fill="#231815"/>
<rect x="365.1" y="644.9" width="4" height="3.9" fill="#231815"/>
<rect x="365.1" y="651.8" width="4" height="3.9" fill="#231815"/>
<path d="M218.3,557.2 V592" fill="none" stroke="#231815" stroke-width="4" stroke-linecap="butt" stroke-linejoin="round"/>
<path d="M573.1,560.2 V594.8" fill="none" stroke="#231815" stroke-width="4" stroke-linecap="butt" stroke-linejoin="round"/>
<path d="M627.5,272.9 H684" stroke="#2a2a2a" stroke-width="1.15"/><path d="M687.6,272.9 L682.8,270.6 V275.2 Z" fill="#2a2a2a"/>
<text x="611.3" y="290.8" font-size="14.4" fill="#5e5c5c" font-weight="normal" text-anchor="start" textLength="72.0" lengthAdjust="spacingAndGlyphs" class="lt">DMX Signal</text>
<path d="M354.6,594.4 V651" stroke="#2a2a2a" stroke-width="1.15"/><path d="M354.6,655.2 L352.2,650.4 H357.0 Z" fill="#2a2a2a"/>
<text transform="translate(336.1,580.3) rotate(90)" class="lt" font-size="15.0" fill="#5a5858" textLength="71.8" lengthAdjust="spacingAndGlyphs">DMX Signal</text>
<path d="M199.29999999999998,330.0 C194.4975,334.5 187.65,339.9 187.65,348.0" fill="none" stroke="#2e9a6e" stroke-width="1.25" stroke-linecap="round"/>
<path d="M200.1,330.0 L199.8,348.0" fill="none" stroke="#2aaed2" stroke-width="1.45" stroke-linecap="round"/>
<path d="M200.9,330.0 C205.4325,334.5 211.95,339.9 211.95,348.0" fill="none" stroke="#231815" stroke-width="1.25" stroke-linecap="round"/>
<path d="M235.29999999999998,330.0 C230.7,334.5 224.1,339.9 224.1,348.0" fill="none" stroke="#2e9a6e" stroke-width="1.25" stroke-linecap="round"/>
<path d="M236.1,330.0 L236.25,348.0" fill="none" stroke="#2aaed2" stroke-width="1.45" stroke-linecap="round"/>
<path d="M236.9,330.0 C241.635,334.5 248.4,339.9 248.4,348.0" fill="none" stroke="#231815" stroke-width="1.25" stroke-linecap="round"/>
<path d="M358.5,330.5 C356.825,334.75 353.8,339.85 353.8,347.5" fill="none" stroke="#cf2d47" stroke-width="1.25" stroke-linecap="round"/>
<path d="M360.1,330.5 C362.288,334.75 365.94,339.85 365.94,347.5" fill="none" stroke="#231815" stroke-width="1.25" stroke-linecap="round"/>
<path d="M426.4,329.6 C421.485,334.07500000000005 414.5,339.445 414.5,347.5" fill="none" stroke="#2e9a6e" stroke-width="1.25" stroke-linecap="round"/>
<path d="M427.2,329.6 L426.64,347.5" fill="none" stroke="#2aaed2" stroke-width="1.45" stroke-linecap="round"/>
<path d="M428.0,329.6 C432.411,334.07500000000005 438.78000000000003,339.445 438.78000000000003,347.5" fill="none" stroke="#231815" stroke-width="1.25" stroke-linecap="round"/>
<path d="M553.5,330.8 C548.828,335.175 542.14,340.425 542.14,348.3" fill="none" stroke="#2e9a6e" stroke-width="1.25" stroke-linecap="round"/>
<path d="M554.3,330.8 L554.38,348.3" fill="none" stroke="#2aaed2" stroke-width="1.45" stroke-linecap="round"/>
<path d="M555.0999999999999,330.8 C559.8439999999999,335.175 566.62,340.425 566.62,348.3" fill="none" stroke="#231815" stroke-width="1.25" stroke-linecap="round"/>
<path d="M590.9000000000001,330.8 C585.922,335.175 578.86,340.425 578.86,348.3" fill="none" stroke="#2e9a6e" stroke-width="1.25" stroke-linecap="round"/>
<path d="M591.7,330.8 L591.1,348.3" fill="none" stroke="#2aaed2" stroke-width="1.45" stroke-linecap="round"/>
<path d="M592.5,330.8 C596.938,335.175 603.3399999999999,340.425 603.3399999999999,348.3" fill="none" stroke="#231815" stroke-width="1.25" stroke-linecap="round"/>
<path d="M183.332,555.4 C180.35000000000002,545.545 176.8,542.26 176.8,533.5" fill="none" stroke="#231815" stroke-width="1.25" stroke-linecap="round"/>
<path d="M184.29760000000002,555.4 C186.385,545.545 188.87,542.26 188.87,533.5" fill="none" stroke="#cf2d47" stroke-width="1.25" stroke-linecap="round"/>
<path d="M217.8768,557.6 C215.65500000000003,546.755 213.01000000000002,543.14 213.01000000000002,533.5" fill="none" stroke="#231815" stroke-width="1.25" stroke-linecap="round"/>
<path d="M218.8424,557.6 C221.69,546.755 225.08,543.14 225.08,533.5" fill="none" stroke="#cf2d47" stroke-width="1.25" stroke-linecap="round"/>
<path d="M219.70000000000002,557.6 C221.3,548.6 235.15,548.5 237.15,533.5" fill="none" stroke="#2e9152" stroke-width="1.25" stroke-linecap="round"/>
<path d="M219.70000000000002,557.6 C221.3,548.6 247.22000000000003,548.5 249.22000000000003,533.5" fill="none" stroke="#2f9bd8" stroke-width="1.25" stroke-linecap="round"/>
<path d="M219.70000000000002,557.6 C221.3,548.6 259.29,548.5 261.29,533.5" fill="none" stroke="#f2e464" stroke-width="1.25" stroke-linecap="round"/>
<path d="M366.04,549.0 C361.0,541.755 355.0,539.34 355.0,532.9" fill="none" stroke="#2e9a6e" stroke-width="1.25" stroke-linecap="round"/>
<path d="M367.0056,549.0 C367.03499999999997,541.755 367.07,539.34 367.07,532.9" fill="none" stroke="#2aaed2" stroke-width="1.25" stroke-linecap="round"/>
<path d="M367.9712,549.0 C373.07,541.755 379.14,539.34 379.14,532.9" fill="none" stroke="#231815" stroke-width="1.25" stroke-linecap="round"/>
<path d="M426.988,549.0 C421.675,541.755 415.35,539.34 415.35,532.9" fill="none" stroke="#2e9a6e" stroke-width="1.25" stroke-linecap="round"/>
<path d="M427.9536,549.0 C427.71000000000004,541.755 427.42,539.34 427.42,532.9" fill="none" stroke="#2aaed2" stroke-width="1.25" stroke-linecap="round"/>
<path d="M428.9192,549.0 C433.745,541.755 439.49,539.34 439.49,532.9" fill="none" stroke="#231815" stroke-width="1.25" stroke-linecap="round"/>
<path d="M537.424,559.2 C534.4,548.85 530.8,545.4000000000001 530.8,536.2" fill="none" stroke="#231815" stroke-width="1.25" stroke-linecap="round"/>
<path d="M538.4032,559.2 C540.52,548.85 543.04,545.4000000000001 543.04,536.2" fill="none" stroke="#cf2d47" stroke-width="1.25" stroke-linecap="round"/>
<path d="M572.7456000000001,560.8 C570.36,549.73 567.52,546.04 567.52,536.2" fill="none" stroke="#231815" stroke-width="1.25" stroke-linecap="round"/>
<path d="M573.7248000000001,560.8 C576.48,549.73 579.76,546.04 579.76,536.2" fill="none" stroke="#cf2d47" stroke-width="1.25" stroke-linecap="round"/>
<path d="M574.6,560.8 C576.2,551.8 590.0,551.2 592.0,536.2" fill="none" stroke="#2e9152" stroke-width="1.25" stroke-linecap="round"/>
<path d="M574.6,560.8 C576.2,551.8 602.24,551.2 604.24,536.2" fill="none" stroke="#2f9bd8" stroke-width="1.25" stroke-linecap="round"/>
<path d="M574.6,560.8 C576.2,551.8 614.48,551.2 616.48,536.2" fill="none" stroke="#f2e464" stroke-width="1.25" stroke-linecap="round"/>
<path d="M217.156,591.2 C211.15,599.5400000000001 204.0,605.1 204.0,619.0" fill="none" stroke="#231815" stroke-width="1.2" stroke-linecap="round"/>
<path d="M217.74,591.2 C214.8,599.5400000000001 211.3,605.1 211.3,619.0" fill="none" stroke="#cf2d47" stroke-width="1.2" stroke-linecap="round"/>
<path d="M218.324,591.2 C218.45,599.5400000000001 218.6,605.1 218.6,619.0" fill="none" stroke="#2e9152" stroke-width="1.2" stroke-linecap="round"/>
<path d="M218.90800000000002,591.2 C222.10000000000002,599.5400000000001 225.9,605.1 225.9,619.0" fill="none" stroke="#2f9bd8" stroke-width="1.2" stroke-linecap="round"/>
<path d="M219.49200000000002,591.2 C225.75,599.5400000000001 233.2,605.1 233.2,619.0" fill="none" stroke="#f2e464" stroke-width="1.2" stroke-linecap="round"/>
<path d="M571.988,594.4 C566.1500000000001,602.68 559.2,608.2 559.2,622.0" fill="none" stroke="#231815" stroke-width="1.2" stroke-linecap="round"/>
<path d="M572.572,594.4 C569.8,602.68 566.5,608.2 566.5,622.0" fill="none" stroke="#cf2d47" stroke-width="1.2" stroke-linecap="round"/>
<path d="M573.1560000000001,594.4 C573.45,602.68 573.8000000000001,608.2 573.8000000000001,622.0" fill="none" stroke="#2e9152" stroke-width="1.2" stroke-linecap="round"/>
<path d="M573.74,594.4 C577.1,602.68 581.1,608.2 581.1,622.0" fill="none" stroke="#2f9bd8" stroke-width="1.2" stroke-linecap="round"/>
<path d="M574.3240000000001,594.4 C580.75,602.68 588.4000000000001,608.2 588.4000000000001,622.0" fill="none" stroke="#f2e464" stroke-width="1.2" stroke-linecap="round"/>
</svg></body></html>
